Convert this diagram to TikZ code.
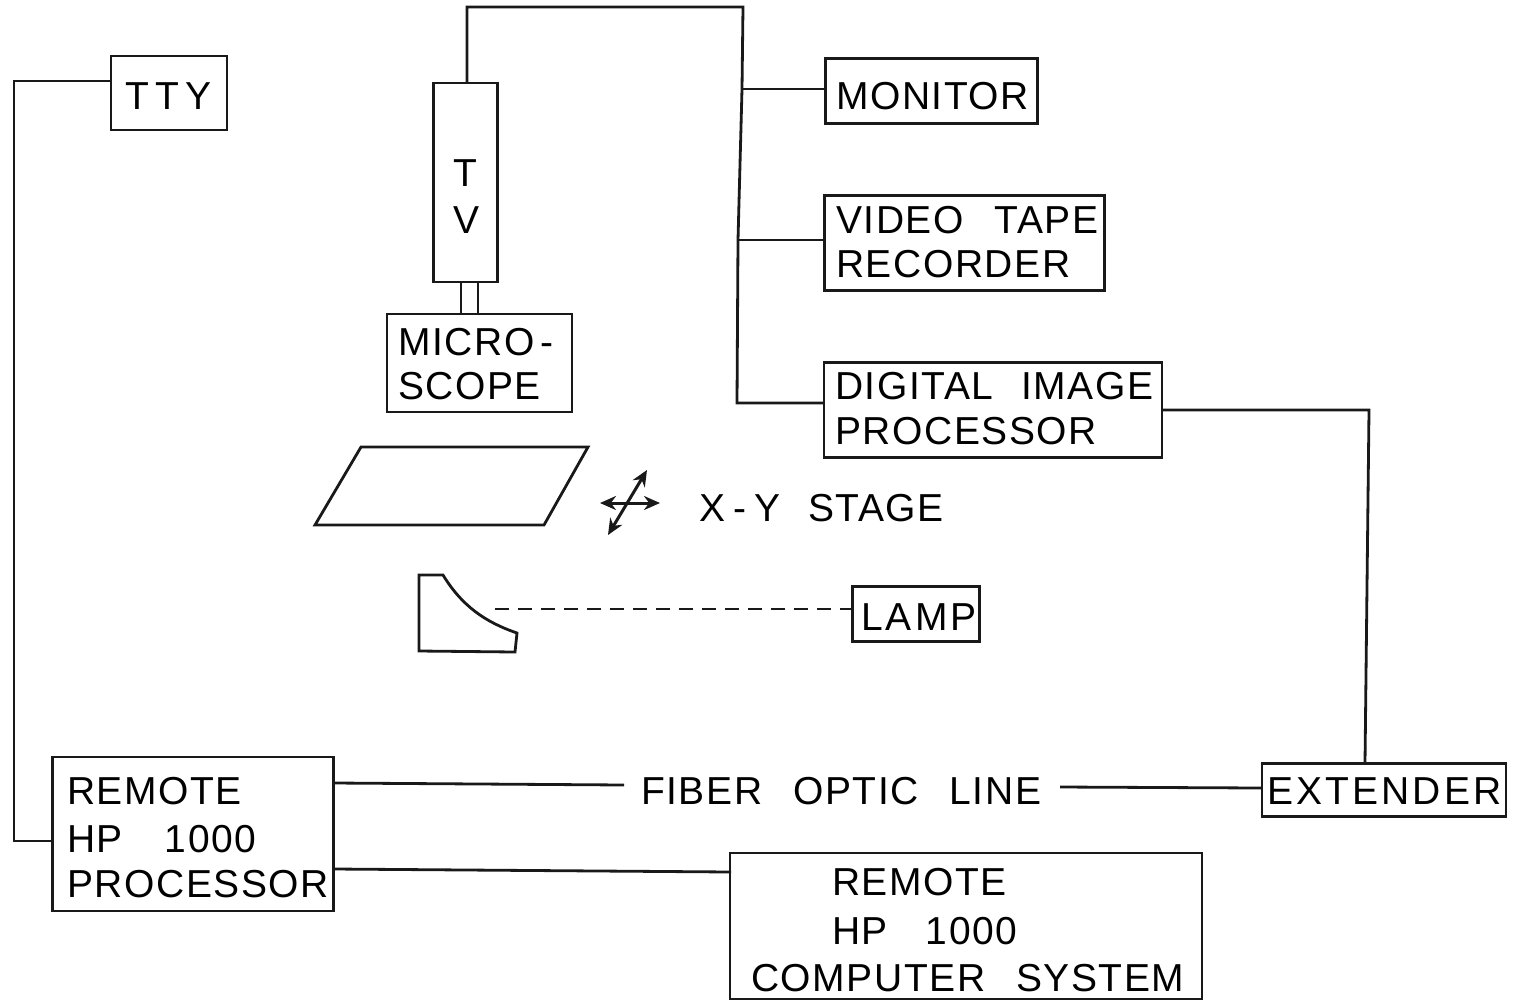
\documentclass[tikz,border=0pt]{standalone}
\usepackage{fontspec}
\setmainfont{Liberation Sans}
\usetikzlibrary{arrows.meta}
\newcommand{\gp}{\hspace{31pt}}
\tikzset{
  x=1pt,y=-1pt,
  wire/.style={line width=2.8pt,black!90},
  boxn/.style={draw=black!90,line width=2.8pt,inner sep=0pt,fill=white},
  dbl/.style={line width=3pt,black!90,{Stealth[length=16pt,width=14pt]}-{Stealth[length=16pt,width=14pt]}},
  txt/.style={inner sep=0pt,anchor=base west,font=\fontsize{39}{46}\selectfont\addfontfeatures{LetterSpace=4}},
  wtxt/.style={inner sep=0pt,anchor=base west,font=\fontsize{39}{46}\selectfont\addfontfeatures{LetterSpace=8}},
  vwtxt/.style={inner sep=0pt,anchor=base west,font=\fontsize{39}{46}\selectfont\addfontfeatures{LetterSpace=16}}
}
\begin{document}
\begin{tikzpicture}
\useasboundingbox (0,0) rectangle (1520,1002);
% boxes
\node[boxn,minimum width=116,minimum height=74] (tty) at (169,93) {};
\node[boxn,minimum width=64,minimum height=199] (tv) at (465.5,182.5) {};
\node[boxn,minimum width=185,minimum height=98] (mic) at (479.5,363) {};
\node[boxn,minimum width=212,minimum height=65] (mon) at (931.5,91) {};
\node[boxn,minimum width=280,minimum height=95] (vtr) at (964.5,243) {};
\node[boxn,minimum width=338,minimum height=95] (dip) at (993,410) {};
\node[boxn,minimum width=127,minimum height=55] (lamp) at (916,614) {};
\node[boxn,minimum width=281,minimum height=154] (rem) at (193,834) {};
\node[boxn,minimum width=244,minimum height=53] (ext) at (1384,790) {};
\node[boxn,minimum width=472,minimum height=146] (comp) at (966,926) {};
% coordinates
\coordinate (ttyl) at (110,81);
\coordinate (lefttop) at (14,81);
\coordinate (leftbot) at (14,841);
\coordinate (reml) at (52,841);
\coordinate (tvt) at (467,82);
\coordinate (t1) at (467,7);
\coordinate (t2) at (743,7);
\coordinate (j1) at (742,89);
\coordinate (monl) at (825,89);
\coordinate (j2) at (738,240);
\coordinate (vtrl) at (825,240);
\coordinate (j3) at (737,403);
\coordinate (dipl) at (824,403);
\coordinate (dipr) at (1162,410);
\coordinate (c1) at (1369,410);
\coordinate (extt) at (1365,763);
\coordinate (tl1) at (461,283);
\coordinate (tl2) at (461,314);
\coordinate (tr1) at (478,283);
\coordinate (tr2) at (478,314);
\coordinate (f1) at (334,783);
\coordinate (f2) at (624,785);
\coordinate (f3) at (1060,787);
\coordinate (f4) at (1261,788);
\coordinate (g1) at (334,869);
\coordinate (g2) at (731,872);
% connectors
\draw[wire] (ttyl) -- (lefttop) -- (leftbot) -- (reml);
\draw[wire] (tvt) -- (t1) -- (t2) -- (j1) -- (j2) -- (j3) -- (dipl);
\draw[wire] (j1) -- (monl);
\draw[wire] (j2) -- (vtrl);
\draw[wire] (dipr) -- (c1) -- (extt);
\draw[wire] (tl1) -- (tl2);
\draw[wire] (tr1) -- (tr2);
\draw[wire] (f1) -- (f2);
\draw[wire] (f3) -- (f4);
\draw[wire] (g1) -- (g2);
% stage
\draw[wire] (315,525) -- (361,447) -- (588,447) -- (544,525) -- cycle;
\coordinate (ah1) at (600,503);
\coordinate (ah2) at (660,503);
\coordinate (ad1) at (608,535);
\coordinate (ad2) at (647,470);
\draw[dbl] (ah1) -- (ah2);
\draw[dbl] (ad1) -- (ad2);
% condenser
\draw[wire] (419,575) -- (443,575) .. controls (462,606) and (485,622) .. (517,633) -- (515,652) -- (419,651) -- cycle;
\coordinate (d1) at (495,609);
\coordinate (d2) at (852,609);
\draw[wire,dash pattern=on 14pt off 9pt] (d1) -- (d2);
% text
\node[vwtxt] (t_tty) at (125,109) {TTY};
\node[txt] (t_t) at (453,186) {T};
\node[txt] (t_v) at (453,233) {V};
\node[txt] (t_m1) at (398,355) {MICRO\hspace{6pt}-};
\node[txt] (t_m2) at (398,399) {SCOPE};
\node[txt] (t_mon) at (836,109) {MONITOR};
\node[txt] (t_v1) at (836,233) {VIDEO\gp TAPE};
\node[txt] (t_v2) at (836,277) {RECORDER};
\node[txt] (t_d1) at (835,399) {DIGITAL\hspace{28pt}IMAGE};
\node[txt] (t_d2) at (835,444) {PROCESSOR};
\node[txt] (t_xy) at (699,521) {X\hspace{8pt}-\hspace{8pt}Y\hspace{28pt}STAGE};
\node[wtxt] (t_l) at (861,630) {LAMP};
\node[txt] (t_r1) at (67,804) {REMOTE};
\node[txt] (t_r2) at (67,852) {HP\hspace{42pt}1000};
\node[txt] (t_r3) at (67,897) {PROCESSOR};
\node[txt] (t_f) at (641,804) {FIBER\gp OPTIC\gp LINE};
\node[wtxt] (t_e) at (1267,804) {EXTENDER};
\node[txt] (t_c1) at (832,895) {REMOTE};
\node[txt] (t_c2) at (832,944) {HP\hspace{38pt}1000};
\node[txt] (t_c3) at (751,991) {COMPUTER\gp SYSTEM};
\end{tikzpicture}
\end{document}
